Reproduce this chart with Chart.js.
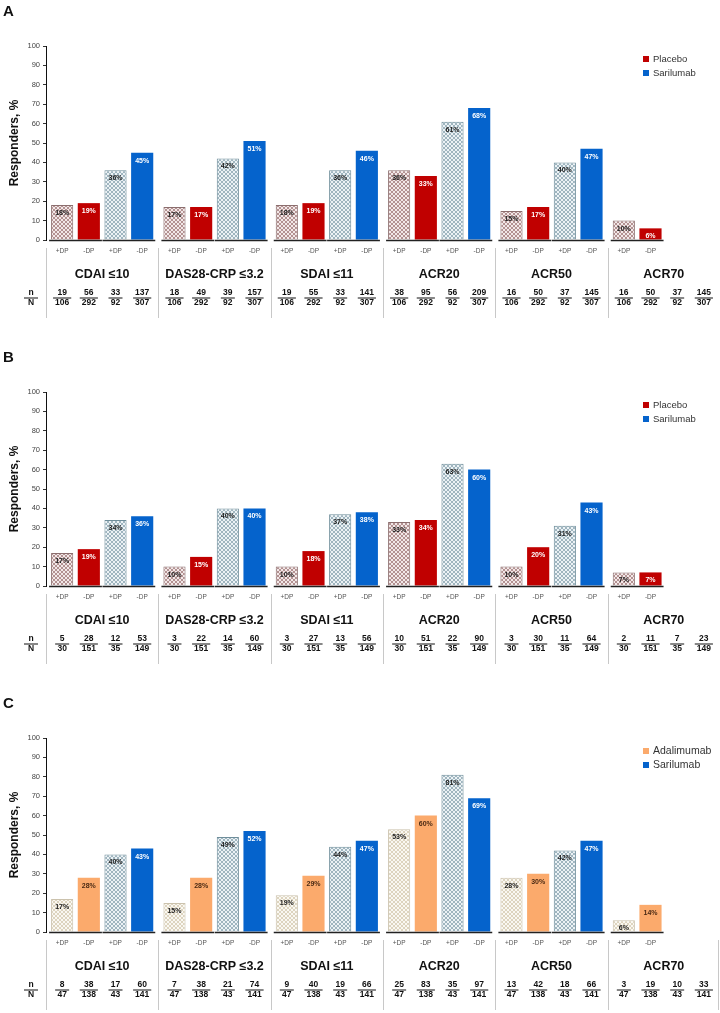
<!DOCTYPE html>
<html>
<head>
<meta charset="utf-8">
<script src="https://cdn.jsdelivr.net/npm/chart.js@4.4.1/dist/chart.umd.min.js"></script>
<style>
    html, body { margin: 0; padding: 0; background: #fff; overflow: hidden; }
    .panel { position: relative; width: 720px; height: 346px; }
    .panel-letter { position: absolute; left: 3px; top: 2px; font: bold 15px Arial, "Liberation Sans", sans-serif; color: #111; }
    canvas { display: block; }
</style>
</head>
<body>
<div class="panel"><div class="panel-letter">A</div><canvas id="chartA" width="720" height="346"></canvas></div>
<div class="panel"><div class="panel-letter">B</div><canvas id="chartB" width="720" height="346"></canvas></div>
<div class="panel"><div class="panel-letter">C</div><canvas id="chartC" width="720" height="346"></canvas></div>
<script>
const groups = ["CDAI \u226410", "DAS28-CRP \u22643.2", "SDAI \u226411", "ACR20", "ACR50", "ACR70"]
const dpTags = ["+DP", "-DP", "+DP", "-DP"]

// panel A: placebo vs sarilumab
const placeboPlusA = [18, 17, 18, 36, 15, 10]
const placeboMinusA = [19, 17, 19, 33, 17, 6]
const sariPlusA = [36, 42, 36, 61, 40, null]
const sariMinusA = [45, 51, 46, 68, 47, null]
const respondersA = [[19, 56, 33, 137], [18, 49, 39, 157], [19, 55, 33, 141], [38, 95, 56, 209], [16, 50, 37, 145], [16, 50, 37, 145]]
const patientsA = [106, 292, 92, 307]

// panel B: placebo vs sarilumab
const placeboPlusB = [17, 10, 10, 33, 10, 7]
const placeboMinusB = [19, 15, 18, 34, 20, 7]
const sariPlusB = [34, 40, 37, 63, 31, null]
const sariMinusB = [36, 40, 38, 60, 43, null]
const respondersB = [[5, 28, 12, 53], [3, 22, 14, 60], [3, 27, 13, 56], [10, 51, 22, 90], [3, 30, 11, 64], [2, 11, 7, 23]]
const patientsB = [30, 151, 35, 149]

// panel C: adalimumab vs sarilumab
const adaPlusC = [17, 15, 19, 53, 28, 6]
const adaMinusC = [28, 28, 29, 60, 30, 14]
const sariPlusC = [40, 49, 44, 81, 42, null]
const sariMinusC = [43, 52, 47, 69, 47, null]
const respondersC = [[8, 38, 17, 60], [7, 38, 21, 74], [9, 40, 19, 66], [25, 83, 35, 97], [13, 42, 18, 66], [3, 19, 10, 33]]
const patientsC = [47, 138, 43, 141]

const FONT = "Arial, 'Liberation Sans', sans-serif"

function makeHatch(bg, fg) {
    const c = document.createElement("canvas")
    c.width = 4
    c.height = 4
    const ctx = c.getContext("2d")
    ctx.fillStyle = bg
    ctx.fillRect(0, 0, 4, 4)
    ctx.fillStyle = fg
    for (let i = 0; i < 4; i++) {
        ctx.fillRect(i, i, 1, 1)
        ctx.fillRect(3 - i, i, 1, 1)
    }
    return ctx.createPattern(c, "repeat")
}

const styles = {
    placebo: {
        name: "Placebo",
        hatch: makeHatch("#f2e8e8", "#b39292"), hatchBorder: "#8c6e6e",
        solid: "#c00000", solidText: "#ffffff"
    },
    adalimumab: {
        name: "Adalimumab",
        hatch: makeHatch("#faf8f2", "#ddd4bf"), hatchBorder: "#cbc2ad",
        solid: "#fbaa6c", solidText: "#4a2a14"
    },
    sarilumab: {
        name: "Sarilumab",
        hatch: makeHatch("#ecf2f5", "#9fb5bf"), hatchBorder: "#6f8e9b",
        solid: "#0563cc", solidText: "#ffffff"
    }
}

function makeTablePlugin(panel) {
    return {
        id: "tableUnderAxis",
        afterDatasetsDraw(chart) {
            const ctx = chart.ctx
            const xScale = chart.scales.x
            const bottom = chart.chartArea.bottom
            const catWidth = xScale.getPixelForValue(1) - xScale.getPixelForValue(0)
            const metas = chart.data.datasets.map((ds, i) => chart.getDatasetMeta(i))

            ctx.save()
            ctx.textAlign = "center"
            ctx.textBaseline = "middle"

            // value labels inside bars and +DP/-DP tags
            chart.data.datasets.forEach((ds, i) => {
                metas[i].data.forEach((bar, j) => {
                    const v = ds.data[j]
                    if (v === null) return
                    ctx.font = "bold 7px " + FONT
                    ctx.fillStyle = panel.labelColors[i]
                    ctx.fillText(v + "%", bar.x, bar.y + 8)
                    ctx.font = "6.5px " + FONT
                    ctx.fillStyle = "#555"
                    ctx.fillText(dpTags[i], bar.x, bottom + 11)
                })
            })

            // baseline under each pair of bars
            ctx.strokeStyle = "#222"
            ctx.lineWidth = 1.5
            groups.forEach((g, j) => {
                [0, 2].forEach((p) => {
                    const d = chart.data.datasets
                    if (d[p].data[j] === null && d[p + 1].data[j] === null) return
                    const a = metas[p].data[j]
                    const b = metas[p + 1].data[j]
                    ctx.beginPath()
                    ctx.moveTo(a.x - a.width / 2 - 2, bottom + 0.5)
                    ctx.lineTo(b.x + b.width / 2 + 2, bottom + 0.5)
                    ctx.stroke()
                })
            })

            // separators between outcome groups
            ctx.strokeStyle = "#c8c8c8"
            ctx.lineWidth = 1
            const firstEdge = xScale.getPixelForValue(0) - catWidth / 2
            const lastSep = panel.rightEdge ? groups.length : groups.length - 1
            for (let j = 0; j <= lastSep; j++) {
                const sx = Math.min(Math.round(firstEdge + j * catWidth) + 0.5, 718.5)
                ctx.beginPath()
                ctx.moveTo(sx, bottom + 8)
                ctx.lineTo(sx, bottom + 78)
                ctx.stroke()
            }

            // group names
            ctx.fillStyle = "#111"
            ctx.font = "bold 12.5px " + FONT
            groups.forEach((g, j) => {
                ctx.fillText(g, xScale.getPixelForValue(j), bottom + 35)
            })

            // n / N fractions
            function fraction(cx, top, bot) {
                ctx.font = "bold 8.5px " + FONT
                ctx.fillStyle = "#111"
                ctx.fillText(top, cx, bottom + 53)
                ctx.fillText(bot, cx, bottom + 63)
                const w = Math.max(ctx.measureText(String(top)).width, ctx.measureText(String(bot)).width, 10) + 4
                ctx.strokeStyle = "#111"
                ctx.lineWidth = 1
                ctx.beginPath()
                ctx.moveTo(cx - w / 2, bottom + 58)
                ctx.lineTo(cx + w / 2, bottom + 58)
                ctx.stroke()
            }
            fraction(31, "n", "N")
            groups.forEach((g, j) => {
                metas.forEach((meta, k) => {
                    fraction(meta.data[j].x, panel.responders[j][k], panel.patients[k])
                })
            })

            // legend
            const legendItems = [styles[panel.comparator], styles.sarilumab]
            legendItems.forEach((item, i) => {
                const ly = 59 + i * 14
                ctx.fillStyle = item.solid
                ctx.fillRect(643, ly - 3, 6, 6)
                ctx.fillStyle = "#333"
                ctx.font = panel.legendFont + " " + FONT
                ctx.textAlign = "left"
                ctx.fillText(item.name, 653, ly)
            })
            ctx.restore()
        }
    }
}

function buildPanel(panel) {
    const comp = styles[panel.comparator]
    const sari = styles.sarilumab
    panel.labelColors = ["#222", comp.solidText, "#222", sari.solidText]

    const datasets = [
        { data: panel.series[0], backgroundColor: comp.hatch, borderColor: comp.hatchBorder, borderWidth: 1 },
        { data: panel.series[1], backgroundColor: comp.solid, borderWidth: 0 },
        { data: panel.series[2], backgroundColor: sari.hatch, borderColor: sari.hatchBorder, borderWidth: 1 },
        { data: panel.series[3], backgroundColor: sari.solid, borderWidth: 0 }
    ]

    return new Chart(document.getElementById(panel.id), {
        type: "bar",
        data: { labels: groups, datasets },
        options: {
            responsive: false,
            animation: false,
            devicePixelRatio: 1,
            categoryPercentage: 0.95,
            barPercentage: 0.83,
            layout: { padding: { top: 46, bottom: 106, right: 0, left: 0 } },
            plugins: {
                legend: { display: false },
                tooltip: { enabled: false }
            },
            scales: {
                x: { display: false },
                y: {
                    min: 0,
                    max: 100,
                    afterFit(scale) { scale.width = 46 },
                    ticks: { stepSize: 10, color: "#444", font: { size: 7.5, family: FONT }, padding: 3 },
                    grid: { drawOnChartArea: false, drawTicks: true, tickLength: 3, color: "#333" },
                    border: { color: "#111", width: 1 },
                    title: {
                        display: true,
                        text: "Responders, %",
                        color: "#111",
                        font: { size: 12, weight: "bold", family: FONT },
                        padding: { top: 7, bottom: 0 }
                    }
                }
            }
        },
        plugins: [makeTablePlugin(panel)]
    })
}

const panels = [
    {
        id: "chartA", comparator: "placebo", legendFont: "9.5px",
        series: [placeboPlusA, placeboMinusA, sariPlusA, sariMinusA],
        responders: respondersA, patients: patientsA, rightEdge: false
    },
    {
        id: "chartB", comparator: "placebo", legendFont: "9.5px",
        series: [placeboPlusB, placeboMinusB, sariPlusB, sariMinusB],
        responders: respondersB, patients: patientsB, rightEdge: false
    },
    {
        id: "chartC", comparator: "adalimumab", legendFont: "10.5px",
        series: [adaPlusC, adaMinusC, sariPlusC, sariMinusC],
        responders: respondersC, patients: patientsC, rightEdge: true
    }
]

panels.forEach(buildPanel)
</script>
</body>
</html>
